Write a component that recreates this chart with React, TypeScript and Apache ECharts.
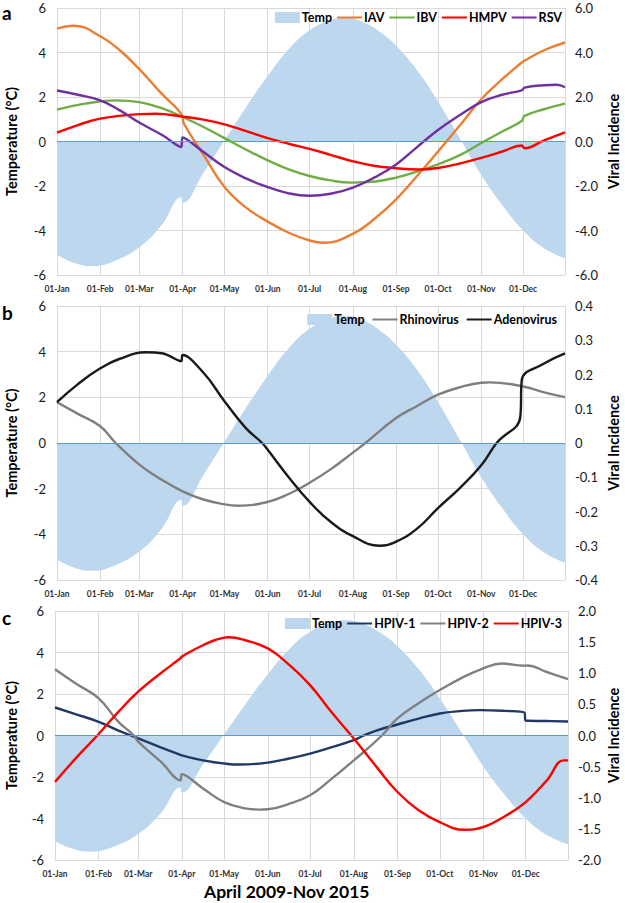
import React, { useEffect, useRef } from 'react';
import * as echarts from 'echarts';

// ---------- axis categories ----------
const MONTHS = ['Jan', 'Feb', 'Mar', 'Apr', 'May', 'Jun', 'Jul', 'Aug', 'Sep', 'Oct', 'Nov', 'Dec'];
const MONTH_LENGTHS = [31, 28, 31, 30, 31, 30, 31, 31, 30, 31, 30, 31];
const dayLabels: string[] = [];
MONTHS.forEach((m, i) => {
  for (let d = 1; d <= MONTH_LENGTHS[i]; d++) dayLabels.push(`${d < 10 ? '0' + d : d}-${m}`);
});

// ---------- temperature (left axis, °C) ----------
const tempDays = [0, 12, 25, 40, 59, 75, 89, 90, 105, 120, 135, 151, 166, 181, 196, 206, 220, 233, 243, 258, 273, 290, 304, 319, 334, 349, 364];
const tempValues = [-5.1, -5.45, -5.6, -5.4, -4.75, -3.75, -2.5, -2.75, -1.4, 0.05, 1.5, 2.95, 4.15, 5.0, 5.45, 5.56, 5.35, 4.85, 4.3, 3.2, 1.8, 0.0, -1.5, -2.85, -4.0, -4.8, -5.25];

// ---------- panel a ----------
const iavDays = [0, 12, 31, 45, 59, 75, 89, 91, 105, 120, 135, 151, 166, 181, 191, 212, 228, 243, 258, 273, 289, 304, 319, 333, 334, 349, 364];
const iavValues = [5.07, 5.2, 4.73, 4.1, 3.25, 2.15, 1.25, 0.8, -0.6, -2.05, -2.95, -3.6, -4.1, -4.45, -4.55, -4.15, -3.45, -2.6, -1.55, -0.45, 0.75, 1.9, 2.8, 3.55, 3.6, 4.1, 4.45];

const ibvDays = [0, 20, 42, 59, 75, 90, 105, 120, 135, 151, 166, 181, 196, 211, 228, 243, 258, 273, 289, 304, 319, 333, 335, 349, 364];
const ibvValues = [1.43, 1.7, 1.85, 1.77, 1.5, 1.1, 0.65, 0.15, -0.35, -0.85, -1.25, -1.55, -1.75, -1.85, -1.8, -1.62, -1.35, -1.03, -0.6, -0.07, 0.45, 0.92, 1.15, 1.45, 1.7];

const hmpvDays = [0, 15, 31, 59, 71, 90, 105, 120, 135, 151, 166, 181, 196, 212, 228, 243, 258, 273, 289, 304, 319, 333, 335, 349, 364];
const hmpvValues = [0.4, 0.74, 1.03, 1.23, 1.25, 1.12, 0.98, 0.77, 0.48, 0.15, -0.1, -0.33, -0.6, -0.89, -1.1, -1.2, -1.26, -1.19, -0.98, -0.74, -0.45, -0.18, -0.3, 0.05, 0.41];

const rsvDays = [0, 15, 31, 45, 59, 75, 89, 90, 105, 120, 135, 151, 166, 181, 196, 212, 228, 243, 258, 273, 289, 304, 319, 333, 335, 349, 358, 364];
const rsvValues = [2.29, 2.1, 1.85, 1.4, 0.85, 0.3, -0.25, 0.18, -0.47, -1.15, -1.65, -2.05, -2.33, -2.44, -2.35, -2.07, -1.6, -1.03, -0.25, 0.52, 1.2, 1.77, 2.1, 2.3, 2.42, 2.53, 2.55, 2.44];

// ---------- panel b ----------
const rhinoDays = [0, 15, 31, 42, 59, 75, 90, 105, 120, 130, 151, 166, 181, 196, 212, 221, 243, 258, 273, 289, 304, 310, 334, 349, 364];
const rhinoValues = [0.119, 0.085, 0.049, 0.0, -0.063, -0.107, -0.141, -0.165, -0.179, -0.183, -0.172, -0.149, -0.116, -0.077, -0.028, 0.0, 0.073, 0.108, 0.141, 0.163, 0.176, 0.177, 0.165, 0.148, 0.134];

const adenoDays = [0, 15, 31, 45, 64, 75, 89, 90, 105, 120, 135, 147, 151, 166, 181, 196, 212, 231, 243, 258, 273, 289, 304, 315, 332, 333, 349, 364];
const adenoValues = [0.119, 0.172, 0.218, 0.246, 0.265, 0.262, 0.239, 0.257, 0.205, 0.122, 0.045, 0.0, -0.02, -0.1, -0.172, -0.23, -0.272, -0.3, -0.288, -0.25, -0.19, -0.13, -0.065, 0.0, 0.077, 0.183, 0.232, 0.262];

// ---------- panel c ----------
const hpiv1Days = [0, 15, 31, 45, 54, 59, 75, 89, 90, 105, 120, 131, 151, 166, 181, 196, 212, 219, 228, 243, 258, 273, 289, 301, 319, 333, 334, 349, 364];
const hpiv1Values = [0.45, 0.34, 0.22, 0.08, 0.0, -0.048, -0.19, -0.31, -0.32, -0.4, -0.45, -0.467, -0.435, -0.37, -0.29, -0.19, -0.075, 0.0, 0.08, 0.177, 0.27, 0.354, 0.395, 0.407, 0.395, 0.37, 0.24, 0.232, 0.225];

const hpiv2Days = [0, 15, 31, 45, 56, 59, 75, 89, 90, 105, 120, 135, 145, 151, 166, 181, 196, 212, 232, 243, 258, 273, 289, 304, 317, 333, 335, 349, 364];
const hpiv2Values = [1.063, 0.83, 0.596, 0.22, 0.0, -0.1, -0.42, -0.72, -0.62, -0.85, -1.07, -1.17, -1.19, -1.185, -1.1, -0.96, -0.7, -0.4, 0.0, 0.274, 0.52, 0.73, 0.93, 1.08, 1.156, 1.12, 1.125, 1.02, 0.904];

const hpiv3Days = [0, 15, 30, 45, 59, 75, 89, 90, 105, 120, 123, 135, 151, 166, 181, 196, 212, 228, 243, 258, 273, 290, 304, 319, 334, 349, 361, 364];
const hpiv3Values = [-0.746, -0.36, 0.0, 0.38, 0.703, 1.0, 1.24, 1.267, 1.45, 1.573, 1.578, 1.53, 1.4, 1.14, 0.81, 0.38, -0.048, -0.5, -0.907, -1.2, -1.39, -1.514, -1.47, -1.3, -1.07, -0.72, -0.4, -0.4];

// ---------- styling ----------
const FONT = "Lato, 'Open Sans', 'Liberation Sans', sans-serif";
const GRID_COLOR = '#D9D9D9';
const TEMP_FILL = '#BDD7EE';
const SMOOTH = 0.45;

const pairs = (days: number[], vals: number[]) => days.map((d, i) => [d, vals[i]]);
const isMonthStart = (_i: number, v: string) => v.startsWith('01-');

function tempSeries(p: number) {
  return {
    name: 'Temp',
    type: 'line',
    xAxisIndex: p,
    yAxisIndex: p * 2,
    data: pairs(tempDays, tempValues),
    symbol: 'none',
    smooth: SMOOTH,
    color: TEMP_FILL,
    lineStyle: { width: 0, color: TEMP_FILL },
    areaStyle: { color: TEMP_FILL, opacity: 1 },
    z: 1,
    markLine: {
      silent: true,
      symbol: ['none', 'none'],
      label: { show: false },
      lineStyle: { color: '#5B9BD5', type: 'solid', width: 1.2 },
      data: [{ yAxis: 0 }],
    },
  };
}

function lineSeries(name: string, color: string, days: number[], vals: number[], p: number) {
  return {
    name,
    type: 'line',
    xAxisIndex: p,
    yAxisIndex: p * 2 + 1,
    data: pairs(days, vals),
    symbol: 'none',
    smooth: SMOOTH,
    color,
    lineStyle: { color, width: 2.4 },
    z: 3,
  };
}

const grids = [
  { left: 57, top: 8, width: 508, height: 267 },
  { left: 57, top: 306, width: 508, height: 274 },
  { left: 55, top: 611, width: 513, height: 249 },
];

const rightAxes = [
  { min: -6, max: 6, interval: 2, fmt: (v: number) => v.toFixed(1), gap: 41 },
  { min: -0.4, max: 0.4, interval: 0.1, fmt: (v: number) => (Math.abs(v) < 1e-9 ? '0' : v.toFixed(1)), gap: 41 },
  { min: -2, max: 2, interval: 0.5, fmt: (v: number) => (Math.abs(v) < 1e-9 ? '0.0' : v.toFixed(1)), gap: 38 },
];
const leftGaps = [38, 38, 36];

function buildOption() {
  const xAxis = grids.map((_, p) => ({
    type: 'category',
    gridIndex: p,
    data: dayLabels,
    boundaryGap: false,
    axisLine: { show: true, lineStyle: { color: GRID_COLOR, width: 1 } },
    axisTick: { show: false },
    axisLabel: {
      interval: isMonthStart,
      fontFamily: FONT,
      fontWeight: 'bold',
      fontSize: 8.5,
      color: '#333',
      margin: 9,
    },
    splitLine: { show: true, interval: isMonthStart, lineStyle: { color: GRID_COLOR, width: 1 } },
  }));

  const nameStyle = { fontFamily: FONT, fontWeight: 'bold', fontSize: 14.5, color: '#000' };
  const tickStyle = { fontFamily: FONT, fontSize: 13, color: '#1a1a1a' };

  const yAxis: any[] = [];
  grids.forEach((_, p) => {
    yAxis.push({
      type: 'value',
      gridIndex: p,
      position: 'left',
      min: -6,
      max: 6,
      interval: 2,
      name: 'Temperature (°C)',
      nameLocation: 'middle',
      nameRotate: 90,
      nameGap: leftGaps[p],
      nameTextStyle: nameStyle,
      axisLine: { show: false },
      axisTick: { show: false },
      axisLabel: { ...tickStyle, margin: 11 },
      splitLine: { show: true, lineStyle: { color: GRID_COLOR, width: 1 } },
    });
    const r = rightAxes[p];
    yAxis.push({
      type: 'value',
      gridIndex: p,
      position: 'right',
      min: r.min,
      max: r.max,
      interval: r.interval,
      name: 'Viral Incidence',
      nameLocation: 'middle',
      nameRotate: 90,
      nameGap: r.gap,
      nameMoveOverlap: false,
      nameTextStyle: nameStyle,
      axisLine: { show: true, lineStyle: { color: GRID_COLOR, width: 1 } },
      axisTick: { show: false },
      axisLabel: { ...tickStyle, margin: 10, formatter: r.fmt },
      splitLine: { show: false },
    });
  });

  const legendBase = {
    orient: 'horizontal',
    itemWidth: 25,
    itemHeight: 11,
    itemGap: 4,
    selectedMode: false,
    itemStyle: { opacity: 0 },
    textStyle: { fontFamily: FONT, fontWeight: 'bold', fontSize: 12.5, color: '#000', padding: [0, 0, 0, -3] },
  };
  const tempLegendItem = { name: 'Temp', icon: 'rect', itemStyle: { color: TEMP_FILL, opacity: 1 } };

  const legend = [
    { ...legendBase, right: 58, top: 6, data: [tempLegendItem, 'IAV', 'IBV', 'HMPV', 'RSV'] },
    { ...legendBase, right: 63, top: 308, itemGap: 7, data: [tempLegendItem, 'Rhinovirus', 'Adenovirus'] },
    { ...legendBase, right: 58, top: 612, data: [tempLegendItem, 'HPIV-1', 'HPIV-2', 'HPIV-3'] },
  ];

  const series = [
    tempSeries(0),
    lineSeries('IAV', '#ED7D31', iavDays, iavValues, 0),
    lineSeries('IBV', '#70AD47', ibvDays, ibvValues, 0),
    lineSeries('HMPV', '#FF0000', hmpvDays, hmpvValues, 0),
    lineSeries('RSV', '#7030A0', rsvDays, rsvValues, 0),
    tempSeries(1),
    lineSeries('Rhinovirus', '#7F7F7F', rhinoDays, rhinoValues, 1),
    lineSeries('Adenovirus', '#1A1A1A', adenoDays, adenoValues, 1),
    tempSeries(2),
    lineSeries('HPIV-1', '#203864', hpiv1Days, hpiv1Values, 2),
    lineSeries('HPIV-2', '#808080', hpiv2Days, hpiv2Values, 2),
    lineSeries('HPIV-3', '#FF0000', hpiv3Days, hpiv3Values, 2),
  ];

  const letter = (t: string, y: number) => ({
    type: 'text',
    left: 2,
    top: y,
    style: { text: t, font: `bold 19px ${FONT}`, fill: '#000' },
  });

  return {
    animation: false,
    backgroundColor: '#fff',
    grid: grids.map((g) => ({ ...g, containLabel: false, outerBoundsMode: 'none' })),
    xAxis,
    yAxis,
    legend,
    series,
    graphic: [
      letter('a', 3),
      letter('b', 303),
      letter('c', 608),
      {
        type: 'text',
        left: 204,
        top: 882,
        style: { text: 'April 2009-Nov 2015', font: `bold 17.5px ${FONT}`, fill: '#000' },
      },
    ],
  };
}

export default function App() {
  const ref = useRef<HTMLDivElement>(null);
  useEffect(() => {
    if (!ref.current) return;
    const chart = echarts.init(ref.current, null, { renderer: 'svg' });
    chart.setOption(buildOption() as any);
    return () => chart.dispose();
  }, []);
  return (
    <div
      ref={ref}
      style={{ position: 'fixed', left: 0, top: 0, width: 625, height: 903, background: '#fff' }}
    />
  );
}
